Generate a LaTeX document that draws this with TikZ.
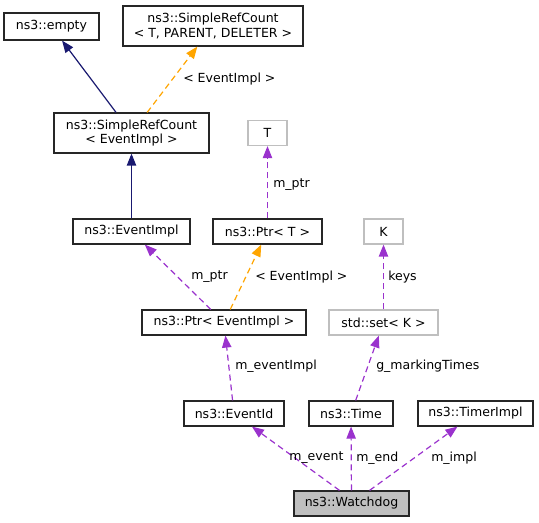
\documentclass[tikz,border=0pt]{standalone}
\usepackage{fontspec}
\setmainfont{DejaVu Sans}
\usetikzlibrary{arrows.meta}
\definecolor{navyedge}{HTML}{191970}
\definecolor{orangeedge}{HTML}{FFA500}
\definecolor{purpleedge}{HTML}{9A32CD}
\definecolor{lightframe}{HTML}{BFBFBF}
\begin{document}
\begin{tikzpicture}[
		x=0.75pt, y=-0.75pt,
		font=\fontsize{9.4}{11}\selectfont,
		cls/.style={draw=black!85, line width=0.9pt, inner sep=0pt, minimum height=18.75pt, align=center},
		tmpl/.style={cls, draw=lightframe},
		lbl/.style={anchor=west, inner sep=0pt},
		inherit/.style={draw=navyedge, line width=0.9pt, -{Triangle[length=9pt, width=7pt]}},
		instance/.style={draw=orangeedge, line width=0.9pt, dash pattern=on 4.5pt off 3pt, -{Triangle[length=9pt, width=7pt]}},
		member/.style={draw=purpleedge, line width=0.9pt, dash pattern=on 4.5pt off 3pt, -{Triangle[length=9pt, width=7pt]}}
		]
		\useasboundingbox (0,0) rectangle (539,523);
		\node (empty) [cls, minimum width=71.25pt, minimum height=20.25pt] at (51.5,26.5) {ns3::empty};
		\node (srcT) [cls, minimum width=135pt, minimum height=30pt] at (213,26) {ns3::SimpleRefCount\\< T, PARENT, DELETER >};
		\node (srcEv) [cls, minimum width=116.25pt, minimum height=30pt] at (131.5,133) {ns3::SimpleRefCount\\< EventImpl >};
		\node (T) [tmpl, minimum width=29.25pt] at (267.5,133) {T};
		\node (evImpl) [cls, minimum width=87.75pt] at (131.5,231.5) {ns3::EventImpl};
		\node (ptrT) [cls, minimum width=81.75pt] at (267.5,231.5) {ns3::Ptr< T >};
		\node (K) [tmpl, minimum width=29.25pt] at (383.5,231.5) {K};
		\node (ptrEv) [cls, minimum width=123pt] at (224,322.5) {ns3::Ptr< EventImpl >};
		\node (setK) [tmpl, minimum width=81.75pt] at (383.5,322.5) {std::set< K >};
		\node (evId) [cls, minimum width=75pt] at (234,413.5) {ns3::EventId};
		\node (time) [cls, minimum width=63pt] at (351,413.5) {ns3::Time};
		\node (timer) [cls, minimum width=86.25pt] at (475.5,413.5) {ns3::TimerImpl};
		\node (dog) [cls, fill=lightframe, minimum width=86.25pt] at (351.5,503.5) {ns3::Watchdog};
		% inheritance and template instances
		\draw[inherit] (srcEv) -- (empty);
		\draw[instance] (srcEv) -- (srcT);
		\draw[inherit] (evImpl) -- (srcEv);
		\draw[instance] (ptrEv) -- (ptrT);
		% members
		\draw[member] (ptrT) -- (T);
		\draw[member] (ptrEv) -- (evImpl);
		\draw[member] (setK) -- (K);
		\draw[member] (evId) -- (ptrEv);
		\draw[member] (time) -- (setK);
		\draw[member] ([xshift=-9pt]dog.north) -- (evId);
		\draw[member] (dog) -- (time);
		\draw[member] (dog) -- (timer);
		% edge labels
		\node (lSrc) [lbl] at (183,79) {< EventImpl >};
		\node (lPtrT) [lbl] at (273,185) {m\_ptr};
		\node (lPtrEv) [lbl] at (191,277) {m\_ptr};
		\node (lInst) [lbl] at (255,277) {< EventImpl >};
		\node (lKeys) [lbl] at (388,277) {keys};
		\node (lEvImpl) [lbl] at (235,366) {m\_eventImpl};
		\node (lTimes) [lbl] at (376,366) {g\_markingTimes};
		\node (lEvent) [lbl] at (289,458) {m\_event};
		\node (lEnd) [lbl] at (356,458) {m\_end};
		\node (lImpl) [lbl] at (431,458) {m\_impl};
	\end{tikzpicture}
\end{document}
